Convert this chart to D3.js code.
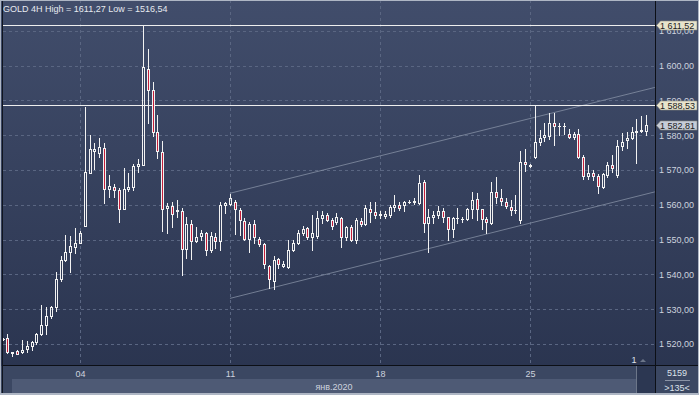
<!DOCTYPE html>
<html><head><meta charset="utf-8">
<script src="https://cdn.jsdelivr.net/npm/d3@7"></script>
<style>
body{margin:0;background:#2e3a55;}
svg{display:block;font-family:"Liberation Sans",Arial,sans-serif;}
</style>
</head><body>
<svg id="c" width="699" height="395"></svg>
<script>
// ---- data (4H candles, index -1 is the partially visible first bar) ----
const candleIdx = d3.range(-1, 133);
const open = [1521.5,
 1521.6,1517.4,1518.0,1517.6,1518.6,1519.3,1520.5,1522.9,1525.6,1528.0,
 1530.5,1538.6,1544.1,1546.3,1548.0,1548.9,1554.0,1569.0,1575.5,1574.8,
 1576.4,1564.5,1565.2,1564.1,1558.9,1564.6,1565.0,1571.1,1571.4,1598.9,
 1593.1,1581.0,1575.2,1559.1,1559.7,1558.4,1558.3,1547.2,1554.6,1549.6,
 1551.0,1551.8,1547.0,1550.8,1549.6,1559.9,1560.1,1560.9,1558.5,1555.4,
 1550.3,1554.4,1550.3,1548.6,1542.4,1538.0,1544.3,1542.4,1542.2,1547.0,
 1548.9,1551.8,1553.2,1550.6,1551.0,1556.2,1557.1,1555.7,1555.0,1556.3,
 1550.6,1553.5,1550.0,1555.4,1554.5,1558.8,1557.8,1557.1,1556.9,1557.0,
 1559.4,1560.0,1559.9,1560.8,1560.8,1560.4,1566.4,1554.8,1556.4,1557.1,
 1558.1,1556.4,1553.0,1556.1,1555.9,1555.9,1558.7,1561.6,1558.7,1555.9,
 1554.8,1563.7,1562.0,1560.9,1559.4,1558.5,1555.5,1572.4,1571.3,1573.6,
 1578.0,1579.4,1579.7,1583.6,1582.6,1582.5,1580.2,1579.5,1580.3,1573.8,
 1568.3,1569.0,1568.2,1565.2,1568.6,1571.3,1568.6,1576.9,1578.6,1579.2,
 1580.8,1581.1,1581.1];
const high = [1521.6,
 1522.9,1517.8,1518.2,1521.1,1521.0,1521.0,1523.3,1531.3,1530.6,1531.0,
 1540.8,1545.3,1551.3,1551.0,1553.2,1552.5,1588.0,1580.0,1577.6,1579.3,
 1577.6,1568.5,1566.1,1564.7,1570.7,1569.2,1571.7,1573.0,1611.27,1604.7,
 1595.2,1585.8,1578.3,1560.4,1560.9,1561.4,1559.0,1556.6,1555.6,1553.7,
 1552.7,1552.3,1552.3,1551.8,1560.9,1560.9,1563.0,1561.4,1559.0,1556.1,
 1555.1,1555.6,1550.8,1548.9,1542.7,1545.3,1544.8,1543.8,1550.0,1550.0,
 1552.8,1553.9,1553.7,1557.1,1558.1,1558.1,1557.6,1556.1,1557.6,1556.6,
 1553.9,1554.2,1556.1,1556.1,1560.0,1560.9,1560.9,1558.1,1558.1,1560.0,
 1562.7,1560.9,1561.2,1561.4,1561.9,1568.5,1567.1,1558.9,1558.1,1559.7,
 1559.0,1556.6,1556.6,1559.0,1556.4,1559.0,1563.7,1563.3,1558.9,1556.6,
 1566.6,1567.9,1564.4,1561.9,1561.4,1562.7,1575.5,1576.0,1571.6,1588.53,
 1581.5,1583.4,1586.3,1586.3,1583.4,1583.4,1581.9,1581.0,1581.9,1574.3,
 1571.4,1570.0,1568.8,1569.2,1572.4,1574.3,1578.6,1580.5,1581.0,1582.4,
 1584.5,1585.5,1585.8];
const low = [1521.2,
 1517.3,1516.54,1517.0,1517.3,1517.8,1518.2,1520.0,1522.5,1522.9,1527.6,
 1529.5,1538.2,1543.9,1540.8,1546.0,1548.9,1554.0,1569.0,1570.2,1573.8,
 1560.6,1562.1,1562.3,1555.1,1558.9,1564.0,1564.2,1569.5,1571.4,1583.6,
 1579.8,1573.3,1552.5,1552.0,1553.7,1556.6,1539.8,1544.6,1544.3,1549.4,
 1549.9,1545.6,1546.5,1547.5,1547.0,1557.7,1560.0,1551.5,1551.2,1549.8,
 1546.5,1548.9,1548.1,1541.7,1536.2,1535.8,1541.7,1542.0,1541.7,1546.6,
 1548.7,1551.3,1550.3,1547.0,1550.5,1554.9,1555.3,1553.0,1554.5,1547.8,
 1550.0,1549.6,1549.1,1553.9,1554.2,1555.1,1556.1,1556.1,1556.1,1556.6,
 1558.1,1558.5,1558.1,1560.4,1560.2,1560.2,1552.2,1546.5,1554.9,1556.1,
 1555.1,1550.0,1550.6,1554.8,1555.1,1555.6,1556.1,1555.6,1553.0,1552.0,
 1554.6,1560.4,1560.0,1559.2,1557.1,1557.5,1554.8,1569.8,1570.9,1573.3,
 1577.2,1578.4,1578.8,1577.2,1579.9,1580.4,1579.2,1578.8,1573.3,1567.3,
 1567.3,1567.1,1563.3,1564.7,1568.1,1569.5,1568.1,1575.7,1576.2,1578.8,
 1572.1,1580.8,1580.0];
const close = [1521.3,
 1517.6,1517.7,1517.1,1518.4,1519.4,1520.6,1523.0,1525.4,1528.1,1530.5,
 1538.6,1544.1,1546.3,1548.1,1548.9,1552.0,1569.3,1575.9,1576.0,1576.5,
 1564.4,1565.5,1564.2,1558.9,1564.6,1565.1,1571.1,1571.7,1599.5,1593.1,
 1581.0,1575.4,1558.9,1559.7,1557.2,1558.2,1547.2,1554.6,1549.6,1550.8,
 1551.8,1547.0,1551.0,1549.6,1559.9,1560.4,1562.0,1558.7,1555.6,1550.3,
 1554.6,1550.6,1548.6,1543.1,1538.8,1544.1,1543.1,1543.1,1547.0,1548.9,
 1551.8,1553.0,1550.6,1551.8,1556.2,1557.1,1555.7,1554.0,1556.4,1550.6,
 1553.5,1550.0,1555.6,1554.5,1559.2,1557.8,1557.1,1557.2,1557.4,1559.4,
 1559.9,1559.2,1560.8,1560.9,1561.0,1566.3,1554.8,1556.4,1557.1,1558.1,
 1556.6,1553.0,1556.1,1556.2,1556.0,1558.7,1561.4,1558.7,1556.0,1555.1,
 1563.7,1562.3,1561.1,1559.7,1558.5,1558.6,1572.4,1571.7,1571.2,1577.9,
 1579.2,1579.9,1583.6,1582.6,1582.5,1582.6,1579.4,1580.3,1573.8,1568.3,
 1569.0,1568.4,1565.4,1568.8,1571.4,1570.5,1576.9,1578.1,1579.2,1580.8,
 1581.1,1581.6,1582.81];

const weekTickIdx = [15, 46, 77, 108];
const weekTickLabels = ["04", "11", "18", "25"];
const monthLabel = "янв.2020";
const priceTicks = d3.range(1520, 1611, 10);
const levelLines = [1611.52, 1588.53];
const lastPrice = 1582.81;
const channelUpper = [[46, 1563.3], [133.8, 1593.7]];
const channelLower = [[46, 1533.1], [133.8, 1563.7]];
const title = "GOLD 4H High = 1611,27 Low = 1516,54";

// ---- layout ----
const W = 699, H = 395;
const plotL = 3, plotR = 655, plotT = 0, plotB = 366;
const x = d3.scaleLinear().domain([0, 31]).range([7.4, 157.4]);
const y = d3.scaleLinear().domain([1520, 1600]).range([344, 65.5]);
const loc = d3.formatLocale({decimal: ",", thousands: " ", grouping: [3], currency: ["", ""]});
const fmt = loc.format(",.2f");

const svg = d3.select("#c");
const defs = svg.append("defs");
const g1 = defs.append("linearGradient").attr("id", "bg").attr("x1", 0).attr("y1", 0).attr("x2", 0).attr("y2", 1);
g1.append("stop").attr("offset", "0%").attr("stop-color", "#414d6b");
g1.append("stop").attr("offset", "100%").attr("stop-color", "#29334e");
defs.append("clipPath").attr("id", "clip").append("rect")
  .attr("x", plotL).attr("y", plotT).attr("width", plotR - plotL).attr("height", plotB - plotT);

svg.append("rect").attr("width", W).attr("height", H).attr("fill", "url(#bg)");

// bottom panel
svg.append("rect").attr("x", 0).attr("y", plotB).attr("width", W).attr("height", H - plotB).attr("fill", "#3b4762");
svg.append("rect").attr("x", 12).attr("y", 379).attr("width", 624).attr("height", 14).attr("fill", "#4e5a75");
svg.append("rect").attr("x", 636).attr("y", plotB).attr("width", 19).attr("height", H - plotB).attr("fill", "#2c3752");
svg.append("line").attr("x1", 636.5).attr("x2", 636.5).attr("y1", plotB).attr("y2", H).attr("stroke", "#6c7689");

// grid
const grid = svg.append("g").attr("stroke", "#5a6682").attr("stroke-dasharray", "3,3").attr("stroke-width", 1);
grid.selectAll("line.h").data(priceTicks).join("line")
  .attr("x1", plotL).attr("x2", plotR)
  .attr("y1", d => Math.round(y(d)) + 0.5).attr("y2", d => Math.round(y(d)) + 0.5);
grid.selectAll("line.v").data(weekTickIdx).join("line")
  .attr("y1", plotT).attr("y2", plotB)
  .attr("x1", d => Math.round(x(d)) + 0.5).attr("x2", d => Math.round(x(d)) + 0.5);

// channel
const lineGen = d3.line().x(d => x(d[0])).y(d => y(d[1]));
[channelUpper, channelLower].forEach(c => {
  svg.append("path").attr("d", lineGen(c)).attr("fill", "none")
    .attr("stroke", "#8a94a8").attr("stroke-opacity", 0.75).attr("stroke-width", 1)
    .attr("clip-path", "url(#clip)");
});

// level lines
svg.selectAll("line.lvl").data(levelLines).join("line")
  .attr("x1", plotL).attr("x2", plotR)
  .attr("y1", d => Math.round(y(d)) + 0.5).attr("y2", d => Math.round(y(d)) + 0.5)
  .attr("stroke", "#eeeeee").attr("stroke-width", 1);

// candles
const cg = svg.append("g").attr("clip-path", "url(#clip)");
candleIdx.forEach((idx, k) => {
  const o = open[k], h = high[k], l = low[k], c = close[k];
  const cx = Math.round(x(idx));
  const top = Math.round(y(Math.max(o, c)));
  const bot = Math.round(y(Math.min(o, c)));
  const yh = Math.round(y(h)), yl = Math.round(y(l));
  const col = "#f2f2f2";
  if (yh < top) cg.append("line").attr("x1", cx + 0.5).attr("x2", cx + 0.5).attr("y1", yh).attr("y2", top).attr("stroke", col);
  if (yl > bot) cg.append("line").attr("x1", cx + 0.5).attr("x2", cx + 0.5).attr("y1", bot + 1).attr("y2", yl + 1).attr("stroke", col);
  if (bot - top < 1) {
    cg.append("line").attr("x1", cx - 1).attr("x2", cx + 2).attr("y1", top + 0.5).attr("y2", top + 0.5).attr("stroke", col);
  } else {
    cg.append("rect").attr("x", cx - 0.5).attr("y", top + 0.5).attr("width", 2).attr("height", bot - top)
      .attr("fill", c < o ? "#c41e3a" : "none").attr("stroke", col).attr("stroke-width", 1);
  }
});

// frame lines
svg.append("line").attr("x1", plotL).attr("x2", W).attr("y1", plotB - 0.5).attr("y2", plotB - 0.5).attr("stroke", "#0c0f16");
svg.append("line").attr("x1", plotR + 0.5).attr("x2", plotR + 0.5).attr("y1", 0).attr("y2", H).attr("stroke", "#0c0f16");

// right axis
const ya = d3.axisRight(y).tickValues(priceTicks).tickSize(0).tickPadding(4).tickFormat(fmt);
const yAxis = svg.append("g").attr("transform", `translate(${plotR},0)`).call(ya);
yAxis.select(".domain").remove();
yAxis.selectAll("text").attr("fill", "#cdd3de").style("font-size", "9px");

// bottom axis
const xa = d3.axisBottom(x).tickValues(weekTickIdx).tickSize(0).tickPadding(4.5).tickFormat((d, i) => weekTickLabels[i]);
const xAxis = svg.append("g").attr("transform", `translate(0,${plotB})`).call(xa);
xAxis.select(".domain").remove();
xAxis.selectAll("text").attr("fill", "#cdd3de").style("font-size", "9px");

svg.append("text").attr("x", 334).attr("y", 389.5).attr("text-anchor", "middle")
  .attr("fill", "#cdd3de").style("font-size", "9px").text(monthLabel);

// price tags
function tag(v, fill) {
  const yc = Math.round(y(v)) + 0.5;
  svg.append("path")
    .attr("d", `M${plotR + 1.5},${yc} L${plotR + 5.5},${yc - 4.5} L${W - 2},${yc - 4.5} L${W - 2},${yc + 4.5} L${plotR + 5.5},${yc + 4.5} Z`)
    .attr("fill", fill).attr("stroke", "#8c8c80").attr("stroke-width", 0.6);
  svg.append("text").attr("x", plotR + 5).attr("y", yc + 3.3)
    .attr("fill", "#1c1c1c").style("font-size", "9px").text(fmt(v));
}
levelLines.forEach(v => tag(v, "#e8e4cc"));
tag(lastPrice, "#c6ccd8");

// title
svg.append("text").attr("x", 3).attr("y", 12).attr("fill", "#e6eaf0").style("font-size", "9px").text(title);

// bottom-right info
svg.append("text").attr("x", 677).attr("y", 376).attr("text-anchor", "middle").attr("fill", "#dde2ea").style("font-size", "9px").text("5159");
svg.append("line").attr("x1", 665).attr("x2", 690).attr("y1", 380.5).attr("y2", 380.5).attr("stroke", "#8a93a5");
svg.append("text").attr("x", 677).attr("y", 391).attr("text-anchor", "middle").attr("fill", "#dde2ea").style("font-size", "9px").text(">135<");
svg.append("text").attr("x", 634).attr("y", 363).attr("text-anchor", "middle").attr("fill", "#dde2ea").style("font-size", "9px").text("1");
svg.append("path").attr("d", "M640,362 L643,359 L646,362 Z").attr("fill", "#6c7689");

// outer frame
svg.append("rect").attr("x", 0.5).attr("y", 0.5).attr("width", W - 1).attr("height", H - 1).attr("fill", "none").attr("stroke", "#aeb6c4");
svg.append("line").attr("x1", 2.5).attr("x2", 2.5).attr("y1", 1).attr("y2", H - 2).attr("stroke", "#10151f");
svg.append("line").attr("x1", 1).attr("x2", W - 1).attr("y1", H - 1.5).attr("y2", H - 1.5).attr("stroke", "#aeb6c4");
</script>
</body></html>
